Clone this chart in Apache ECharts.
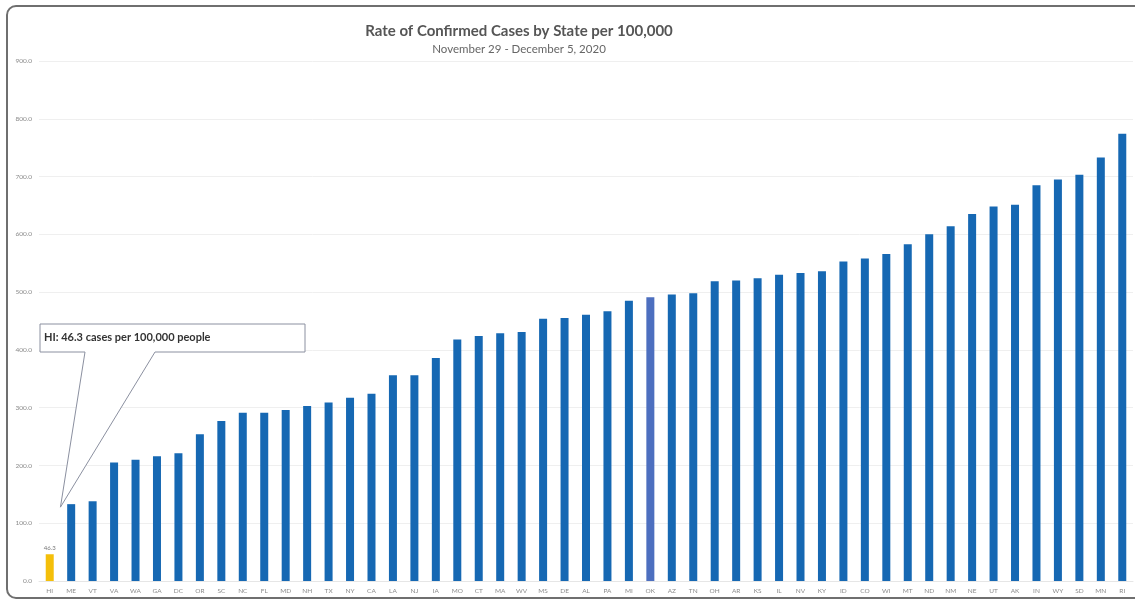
<!DOCTYPE html>
<html>
<head>
<meta charset="utf-8">
<script src="https://cdn.jsdelivr.net/npm/echarts@6/dist/echarts.min.js"></script>
<style>
  html, body { margin: 0; padding: 0; background: #ffffff; }
  #chart { width: 1135px; height: 603px; }
</style>
</head>
<body>
<div id="chart"></div>
<script>
// Weekly case rate per 100,000 residents, sorted ascending
const states = ['HI','ME','VT','VA','WA','GA','DC','OR','SC','NC','FL','MD','NH','TX','NY','CA',
  'LA','NJ','IA','MO','CT','MA','WV','MS','DE','AL','PA','MI','OK','AZ','TN','OH','AR','KS',
  'IL','NV','KY','ID','CO','WI','MT','ND','NM','NE','UT','AK','IN','WY','SD','MN','RI'];
const rates = [46.3,133,138,205,210,216,221,254,277,291,291,296,303,309,317,324,
  356,356,386,418,424,429,431,454,455,461,467,485,491,496,498,519,520,524,
  530,533,536,553,558,566,583,600,614,635,648,651,685,695,703,733,774];
const yTicks = [0, 100, 200, 300, 400, 500, 600, 700, 800, 900];

const titleText = 'Rate of Confirmed Cases by State per 100,000';
const subtitleText = 'November 29 - December 5, 2020';

const baseColor = '#1668b3';
const specialColors = { HI: '#f4bf0a', OK: '#4d6fbf' };
const labelled = 'HI';

const font = 'Lato, "Open Sans", sans-serif';

const chart = echarts.init(document.getElementById('chart'));

const seriesData = states.map((s, i) => {
  const item = { value: rates[i], itemStyle: { color: specialColors[s] || baseColor } };
  if (s === labelled) {
    item.label = {
      show: true, position: 'top', distance: 3,
      formatter: p => p.value.toFixed(1),
      fontSize: 6, color: '#777', fontFamily: font
    };
  }
  return item;
});

chart.setOption({
  animation: false,
  backgroundColor: '#ffffff',
  title: {
    text: titleText,
    subtext: subtitleText,
    left: 514, textAlign: 'center', top: 19, itemGap: 4,
    textStyle: { fontFamily: font, fontSize: 15, fontWeight: 'bold', color: '#555' },
    subtextStyle: { fontFamily: font, fontSize: 11.5, color: '#666' }
  },
  grid: { left: 39, right: 2, top: 61, bottom: 22, containLabel: false },
  xAxis: {
    type: 'category',
    data: states,
    axisLine: { show: true, lineStyle: { color: '#e6e6e6' } },
    axisTick: { show: false },
    axisLabel: { interval: 0, fontSize: 6.5, color: '#8a8a8a', fontFamily: font, margin: 6 }
  },
  yAxis: {
    type: 'value',
    min: yTicks[0], max: yTicks[yTicks.length - 1], interval: yTicks[1] - yTicks[0],
    axisLine: { show: false },
    axisTick: { show: false },
    splitLine: { lineStyle: { color: '#efefef', width: 1 } },
    axisLabel: { formatter: v => v.toFixed(1), fontSize: 6.5, color: '#8a8a8a', fontFamily: font, margin: 7 }
  },
  series: [{
    type: 'bar',
    data: seriesData,
    barWidth: 8
  }]
});

// Outer frame and callout pointing at the lowest state
function drawOverlay() {
  const hiIdx = 0;
  const pHi = chart.convertToPixel({ xAxisIndex: 0, yAxisIndex: 0 }, [states[hiIdx], rates[hiIdx]]);
  const pNext = chart.convertToPixel({ xAxisIndex: 0, yAxisIndex: 0 }, [states[hiIdx + 1], rates[hiIdx + 1]]);
  const tip = [(pHi[0] + pNext[0]) / 2, pNext[1] + 3];

  const box = { x0: 40, y0: 324, x1: 305, y1: 352 };
  const calloutText = states[hiIdx] + ': ' + rates[hiIdx].toFixed(1) + ' cases per 100,000 people';

  chart.setOption({
    graphic: [
      {
        type: 'rect', silent: true, z: 100,
        shape: { x: 7, y: 6, width: 1150, height: 592, r: 9 },
        style: { fill: 'none', stroke: '#6f6f6f', lineWidth: 2 }
      },
      {
        type: 'polygon', silent: true, z: 90,
        shape: { points: [
          [box.x0, box.y0], [box.x1, box.y0], [box.x1, box.y1],
          [155, box.y1], tip, [85, box.y1], [box.x0, box.y1]
        ] },
        style: { fill: '#ffffff', stroke: '#8b90a0', lineWidth: 1 }
      },
      {
        type: 'text', silent: true, z: 91,
        x: 44, y: (box.y0 + box.y1) / 2 - 1,
        style: {
          text: calloutText, fontFamily: font, fontSize: 11, fontWeight: 'bold',
          fill: '#333', verticalAlign: 'middle'
        }
      }
    ]
  });
}
drawOverlay();
</script>
</body>
</html>
